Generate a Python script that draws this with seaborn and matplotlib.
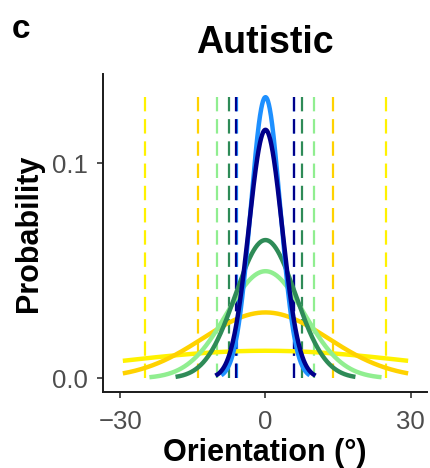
import numpy as np
import pandas as pd
import seaborn as sns
import matplotlib.pyplot as plt

# Fitted widths (deg) of each orientation distribution
levels = ['L1', 'L2', 'L3', 'L4', 'L5', 'L6']
sigma_deg = [31.0, 13.0, 8.0, 6.2, 3.05, 3.45]
# Dashed bounds (deg) for each level
bound_deg = [25.0, 14.0, 10.0, 7.5, 5.9, 6.0]
colors = ['#FFF200', '#FFD200', '#90EE90', '#2E8B57', '#1E90FF', '#00008B']

x_ticks = [-30, 0, 30]
y_ticks = [0.0, 0.1]
y_tick_labels = ['0.0', '0.1']

sns.set_theme(style='ticks')
plt.rcParams['font.family'] = ['Liberation Sans', 'DejaVu Sans']
plt.rcParams['text.color'] = 'black'
plt.rcParams['axes.labelcolor'] = 'black'

# Build the density curves (normal pdf over +-3 sigma, clipped to the panel range)
rows = []
for lev, s in zip(levels, sigma_deg):
    lim = min(3 * s, 29.5)
    xs = np.linspace(-lim, lim, 300)
    ys = np.exp(-xs ** 2 / (2 * s ** 2)) / (s * np.sqrt(2 * np.pi))
    rows.append(pd.DataFrame({'orientation': xs, 'prob': ys, 'level': lev}))
df = pd.concat(rows, ignore_index=True)
top = df['prob'].max()

fig = plt.figure(figsize=(4.31, 4.68), dpi=100)
ax = fig.add_axes([0.2390, 0.162, 0.7517, 0.68])

# dashed bounds
for b, c in zip(bound_deg, colors):
    for sgn in (-1, 1):
        ax.vlines(sgn * b, 0, top, colors=c, linewidth=1.6,
                  linestyles=(0, (6.5, 3.5)), zorder=1)

sns.lineplot(data=df, x='orientation', y='prob', hue='level', hue_order=levels,
             palette=colors, linewidth=3.2, legend=False, ax=ax, zorder=2,
             solid_capstyle='butt', sort=False, estimator=None)

ax.set_xlim(-33.6, 33.4)
ax.set_ylim(-0.0064, 0.1416)
ax.set_xticks(x_ticks)
ax.set_xticklabels(['\u221230', '0', '30'])
ax.set_yticks(y_ticks)
ax.set_yticklabels(y_tick_labels)
ax.tick_params(axis='both', labelsize=18.5, labelcolor='#4D4D4D', color='#333333',
               length=4, width=1.2)
ax.tick_params(axis='x', pad=9)
ax.tick_params(axis='y', pad=7)
for side in ('top', 'right'):
    ax.spines[side].set_visible(False)
for side in ('left', 'bottom'):
    ax.spines[side].set_color('#1a1a1a')
    ax.spines[side].set_linewidth(1.4)

ax.set_xlabel('Orientation (°)', fontsize=22, fontweight='bold', labelpad=3)
ax.set_ylabel('Probability', fontsize=22, fontweight='bold', labelpad=6)
ax.set_title('Autistic', fontsize=27, fontweight='bold', pad=15)
fig.text(0.028, 0.918, 'c', fontsize=24, fontweight='bold')

fig.savefig('out.png', dpi=100)
